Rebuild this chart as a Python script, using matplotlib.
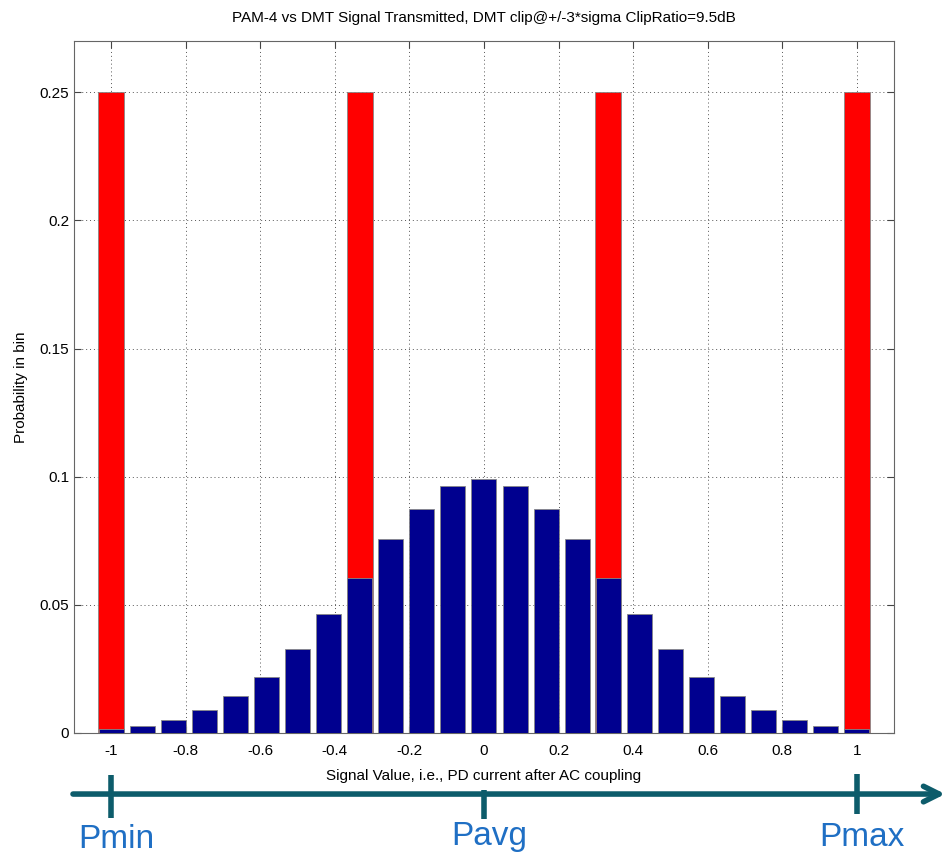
import matplotlib
matplotlib.use("Agg")
import matplotlib.pyplot as plt
import matplotlib.transforms as mtransforms
import numpy as np

plt.rcParams['font.family'] = ['Liberation Sans', 'DejaVu Sans']

# bin centres k/12, k=-12..12
bin_k = list(range(-12, 13))
dmt_prob = [0.0015, 0.0026, 0.0052, 0.0089, 0.0143, 0.0219, 0.0329, 0.0463, 0.0605,
            0.0757, 0.0873, 0.0962, 0.0992, 0.0962, 0.0873, 0.0757, 0.0605,
            0.0463, 0.0329, 0.0219, 0.0143, 0.0089, 0.0052, 0.0026, 0.0015]
pam_levels = [-1.0, -1.0 / 3, 1.0 / 3, 1.0]
pam_prob = [0.25, 0.25, 0.25, 0.25]
xticks = [-1, -0.8, -0.6, -0.4, -0.2, 0, 0.2, 0.4, 0.6, 0.8, 1]
xticklabels = ['-1', '-0.8', '-0.6', '-0.4', '-0.2', '0', '0.2', '0.4', '0.6', '0.8', '1']
yticks = [0, 0.05, 0.1, 0.15, 0.2, 0.25]
yticklabels = ['0', '0.05', '0.1', '0.15', '0.2', '0.25']
marks = [-1, 0, 1]
mark_names = ['Pmin', 'Pavg', 'Pmax']

fig = plt.figure(figsize=(9.48, 8.6), dpi=100)
ax = fig.add_axes([0.078, 0.1477, 0.865, 0.8046])

bin_x = np.array(bin_k) / 12.0
ax.bar(pam_levels, pam_prob, width=0.07, color='#ff0000', edgecolor='#888888', linewidth=0.6, zorder=2)
ax.bar(bin_x, dmt_prob, width=0.067, color='#00008f', edgecolor='#888888', linewidth=0.6, zorder=3)

ax.set_xlim(-1.1, 1.1)
ax.set_ylim(0, 0.27)
ax.set_xticks(xticks)
ax.set_xticklabels(xticklabels)
ax.set_yticks(yticks)
ax.set_yticklabels(yticklabels)
ax.tick_params(direction='in', top=True, right=True, labelsize=11, length=5, color='#444444')
ax.tick_params(axis='x', pad=8)
ax.grid(True, linestyle=(0, (1, 3)), color='#555555', linewidth=0.7, zorder=0)
ax.set_axisbelow(True)
for s in ax.spines.values():
    s.set_color('#666666')

ax.set_title('PAM-4 vs DMT Signal Transmitted, DMT clip@+/-3*sigma ClipRatio=9.5dB', fontsize=11, pad=14)
ax.set_xlabel('Signal Value, i.e., PD current after AC coupling', fontsize=11, labelpad=8)
ax.set_ylabel('Probability in bin', fontsize=11, labelpad=8)

# power axis drawn under the plot
trans = mtransforms.blended_transform_factory(ax.transData, fig.transFigure)
teal = '#0d5c6b'
ax.annotate('', xy=(1.245, 0.0767), xytext=(-1.11, 0.0767), xycoords=trans, textcoords=trans,
            arrowprops=dict(arrowstyle='->', color=teal, lw=4, mutation_scale=28), annotation_clip=False)
tick_top = [0.099, 0.0814, 0.1]
tick_bot = [0.049, 0.0477, 0.0535]
for m, t, b in zip(marks, tick_top, tick_bot):
    ax.plot([m, m], [b, t], transform=trans, color=teal, lw=4, clip_on=False, solid_capstyle='butt')
name_y = [0.014, 0.018, 0.016]
for m, n, y in zip(marks, mark_names, name_y):
    fig.text(m + 0.015, y, n, transform=trans, ha='center', va='baseline', fontsize=24,
             color='#1f6fc4')

fig.savefig('out.png', dpi=100)
